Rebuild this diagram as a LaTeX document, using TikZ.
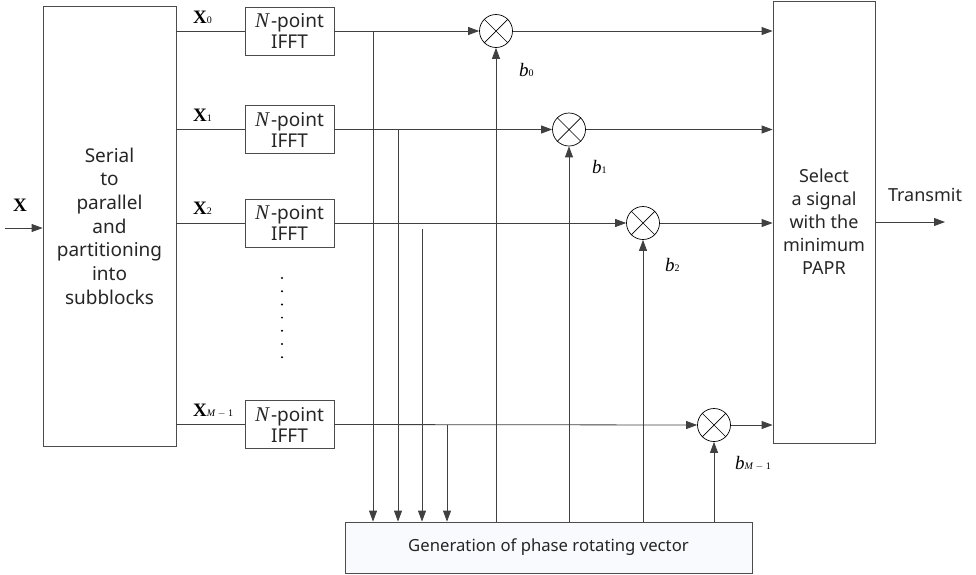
\documentclass[tikz,border=0pt]{standalone}
\usepackage{fontspec}
\setmainfont{Noto Sans}
\newfontfamily\serif{Liberation Serif}
\usetikzlibrary{arrows.meta}
\newcommand{\subsz}{\fontsize{10}{10}\selectfont}
\begin{document}
\begin{tikzpicture}[x=1pt,y=-1pt,
 line/.style={draw=black!75, line width=0.8pt},
 arr/.style={line, -{Triangle[length=11pt,width=8pt]}},
 box/.style={draw=black!70, line width=0.8pt, inner sep=0pt},
 txt/.style={font=\fontsize{16.7}{23.5}\selectfont, align=center, text=black!85},
 mult/.style={circle, draw=black, line width=0.7pt, minimum size=33pt, inner sep=0pt},
 lab/.style={font=\serif\fontsize{19}{20}\selectfont, inner sep=0pt, anchor=base west}
]
\useasboundingbox (0,0) rectangle (976,574);

% main blocks
\node[box, minimum width=133pt, minimum height=440pt, txt, font=\fontsize{19}{23.7}\selectfont] (sp) at (109.5,226)
  {Serial\\to\\parallel\\and\\partitioning\\into\\subblocks};
\node[box, minimum width=102pt, minimum height=442pt, txt, font=\fontsize{18}{23}\selectfont] (sel) at (824,222)
  {Select\\a signal\\with the\\minimum\\PAPR};
\node[box, minimum width=407pt, minimum height=51pt, txt,
  fill={rgb,255:red,248;green,250;blue,254}] (gen) at (548.5,547.5)
  {Generation of phase rotating vector};

% IFFT blocks
\foreach \n/\y in {0/31,1/129.5,2/223,3/424.5}{
  \node[box, minimum width=89pt, minimum height=48pt, txt, font=\fontsize{19}{21}\selectfont]
    (i\n) at (289.5,\y) {{\serif\itshape\fontsize{21}{21}\selectfont N}\kern2pt-point\\IFFT};
}

% multipliers
\foreach \n/\x/\y in {0/496/31,1/569/129.5,2/643/223,3/714/425}{
  \node[mult] (m\n) at (\x,\y) {};
  \draw[line width=0.7pt] (m\n.north west) -- (m\n.south east)
                          (m\n.north east) -- (m\n.south west);
}

% input
\coordinate (in) at (5,228);
\draw[arr] (in) -- (in -| sp.west);
\node[lab] (xl) at (13,211) {\bfseries X};

% SP -> IFFT -> multipliers -> select
\foreach \n in {0,1,2,3}{
  \draw[line] (sp.east |- i\n.west) -- (i\n.west);
  \draw[arr] (i\n.east) -- (m\n.west);
  \draw[arr] (m\n.east) -- (sel.west |- m\n);
}

% taps to generator
\coordinate (t0) at (373,31);
\coordinate (t1) at (398,129.5);
\coordinate (t2) at (422,229);
\coordinate (t3) at (447,424.5);
\foreach \n in {0,1,2,3}{
  \draw[arr] (t\n) -- (t\n |- gen.north);
}

% generator -> multipliers
\foreach \n in {0,1,2,3}{
  \draw[arr] (gen.north -| m\n) -- (m\n.south);
}

% output
\coordinate (out) at (945,222);
\draw[arr] (sel.east |- out) -- (out);
\node[txt, font=\fontsize{18}{20}\selectfont, anchor=base] (tx) at (925,201) {Transmit};

% dots
\foreach \k in {0,...,6}{
  \fill (282,278+13.2*\k) circle (1.1pt);
}

% labels X_i
\node[lab] (x0) at (193,23) {\bfseries X\raisebox{-0.5pt}{\subsz\mdseries 0}};
\node[lab] (x1) at (193,121) {\bfseries X\raisebox{-0.5pt}{\subsz\mdseries 1}};
\node[lab] (x2) at (193,214) {\bfseries X\raisebox{-0.5pt}{\subsz\mdseries 2}};
\node[lab] (x3) at (193,416) {\bfseries X\raisebox{-0.5pt}{\subsz\mdseries\itshape M\upshape\ $-$ 1}};

% labels b_i
\node[lab] (b0) at (519,76) {\itshape b\raisebox{-0.5pt}{\subsz\upshape 0}};
\node[lab] (b1) at (592,173) {\itshape b\raisebox{-0.5pt}{\subsz\upshape 1}};
\node[lab] (b2) at (665,271) {\itshape b\raisebox{-0.5pt}{\subsz\upshape 2}};
\node[lab] (b3) at (735,469) {\itshape b\raisebox{-0.5pt}{\subsz M\upshape\ $-$ 1}};
\end{tikzpicture}
\end{document}
